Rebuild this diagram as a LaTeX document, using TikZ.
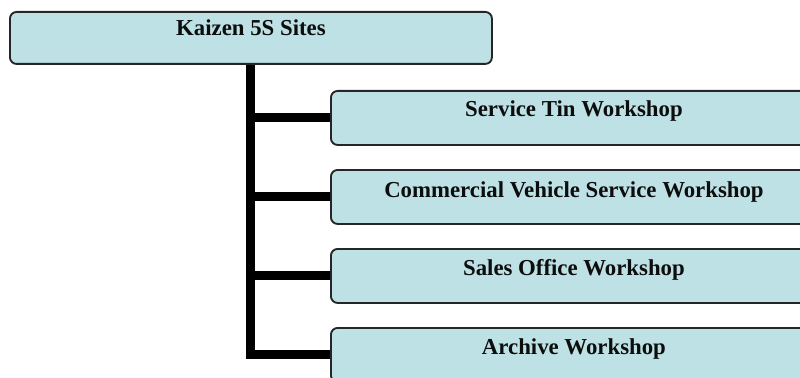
\documentclass[tikz,border=0pt]{standalone}
\usepackage{fontspec}
\setmainfont{Liberation Serif}
\pgfdeclarelayer{back}
\pgfsetlayers{back,main}
\begin{document}
\begin{tikzpicture}[x=0.75pt,y=-0.75pt,
  site/.style={draw=black!85, line width=1.4pt, fill=siteblue,
    rounded corners=5pt, inner sep=0pt, anchor=north west},
  sitetext/.style={anchor=base, inner sep=0pt,
    font=\fontsize{17.1pt}{20pt}\selectfont\bfseries, text=black!95},
  trunk/.style={line width=6.8pt, black}]
\definecolor{siteblue}{RGB}{189,225,228}
\useasboundingbox (0,0) rectangle (800,378);
\clip (0,0) rectangle (800,378);

% parent box
\node[site, minimum width=482*0.75pt, minimum height=52*0.75pt] (top) at (9,11) {};
\node[sitetext] (toplbl) at ([yshift=-25*0.75pt]top.north) {Kaizen 5S Sites};

% child boxes
\foreach \n/\y in {c1/90, c2/169, c3/248, c4/327}{
  \node[site, minimum width=486*0.75pt, minimum height=54*0.75pt] (\n) at (330,\y) {};
}

% connectors from the parent down to every child, behind the boxes
\begin{pgfonlayer}{back}
\foreach \n in {c1,c2,c3,c4}{
  \draw[trunk] (top.south) |- (\n.west);
}
\end{pgfonlayer}

\node[sitetext] (l1) at ([yshift=-27*0.75pt]c1.north) {Service Tin Workshop};
\node[sitetext] (l2) at ([yshift=-28*0.75pt]c2.north) {Commercial Vehicle Service Workshop};
\node[sitetext] (l3) at ([yshift=-27*0.75pt]c3.north) {Sales Office Workshop};
\node[sitetext] (l4) at ([yshift=-27*0.75pt]c4.north) {Archive Workshop};
\end{tikzpicture}
\end{document}
